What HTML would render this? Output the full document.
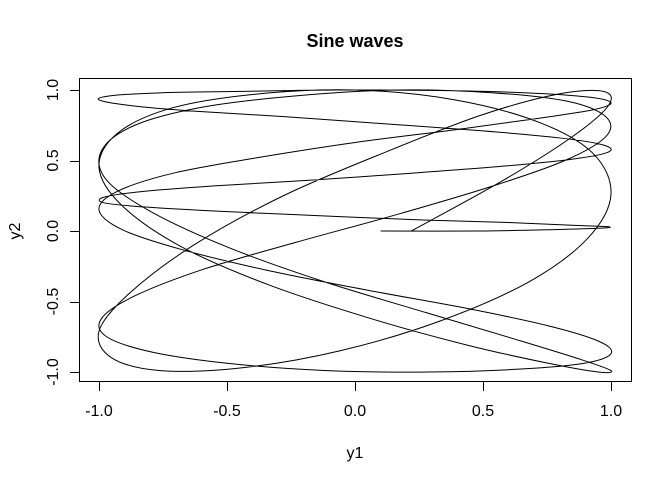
<!DOCTYPE html>
<html><head><meta charset="utf-8"><style>
html,body{margin:0;padding:0;background:#fff;}
svg{display:block;font-family:"Liberation Sans",Arial,sans-serif;}
</style></head><body>
<svg id="chart" width="672" height="480" viewBox="0 0 672 480">
<text x="355" y="47" text-anchor="middle" font-size="18" font-weight="bold">Sine waves</text>
<rect x="79.5" y="78.5" width="552" height="303" fill="none" stroke="#000" stroke-width="1"/>
<g id="xaxis"></g>
<g id="yaxis"></g>
<text x="355" y="458" text-anchor="middle" font-size="16">y1</text>
<text x="20" y="231" text-anchor="middle" font-size="16" transform="rotate(-90 20 231)">y2</text>
<path id="curve" fill="none" stroke="#000" stroke-width="1"/>
</svg>
<script>
const xTicks = [-1.0, -0.5, 0.0, 0.5, 1.0];
const xTickLabels = ["-1.0", "-0.5", "0.0", "0.5", "1.0"];
const yTicks = [-1.0, -0.5, 0.0, 0.5, 1.0];
const yTickLabels = ["-1.0", "-0.5", "0.0", "0.5", "1.0"];
const y1Values = [0.10,0.48,0.78,0.96,0.99,0.86,0.60,0.24,-0.16,-0.53,-0.82,-0.98,-0.98,-0.83,-0.55,-0.18,
0.22,0.58,0.85,0.99,0.97,0.80,0.50,0.12,-0.27,-0.63,-0.88,-1.00,-0.95,-0.76,-0.45,-0.07,
0.33,0.67,0.91,1.00,0.93,0.72,0.40,0.01,-0.38,-0.71,-0.93,-1.00,-0.91,-0.68,-0.34,
0.05,0.44,0.75,0.95,1.00,0.89,0.64,0.29,-0.11,-0.49,-0.79,-0.97,-0.99,-0.86,-0.59,-0.23,
0.17,0.54,0.82,0.98,0.98,0.83,0.54,0.17,-0.22,-0.59,-0.86,-0.99,-0.97,-0.79,-0.49,-0.12,
0.28,0.63,0.88,1.00,0.95,0.76,0.44,0.06,-0.34,-0.68,-0.91,-1.00,-0.93,-0.72,-0.39,0.00,
0.39,0.72,0.93,1.00,0.91,0.68,0.33,-0.06,-0.44,-0.76,-0.95,-1.00,-0.88,-0.63,-0.28,
0.12,0.49,0.79,0.97,0.99,0.85,0.58,0.22];
const y2Values = [0.00,0.00,0.01,0.02,0.03,0.04,0.06,0.08,0.11,0.14,0.17,0.20,0.24,0.28,0.32,0.36,
0.41,0.46,0.51,0.56,0.61,0.66,0.71,0.76,0.81,0.85,0.89,0.93,0.96,0.98,0.99,1.00,
0.996,0.98,0.95,0.91,0.86,0.80,0.72,0.63,0.52,0.41,0.28,0.15,0.01,-0.13,-0.28,
-0.42,-0.55,-0.67,-0.78,-0.87,-0.94,-0.98,-1.00,-0.99,-0.94,-0.86,-0.75,-0.62,-0.46,-0.27,-0.08,
0.12,0.32,0.50,0.67,0.81,0.92,0.98,1.00,0.96,0.88,0.75,0.57,0.36,0.13,-0.12,
-0.36,-0.58,-0.77,-0.91,-0.99,-1.00,-0.94,-0.81,-0.62,-0.38,-0.11,0.18,0.45,0.69,0.87,0.97,1.00,
0.93,0.77,0.55,0.26,-0.05,-0.36,-0.64,-0.85,-0.97,-0.99,-0.90,-0.71,-0.44,-0.10,0.25,0.56,
0.82,0.97,0.99,0.89,0.67,0.36,0.00];

const NS = "http://www.w3.org/2000/svg";
function xScale(v){ return 355 + 256 * v; }
function yScale(v){ return 231 - 141 * v; }

const xg = document.getElementById('xaxis');
xTicks.forEach((t,i)=>{
  const tk = document.createElementNS(NS,'line');
  
  
  const x = Math.round(xScale(t))+0.5;
  tk.setAttribute('x1',x); tk.setAttribute('x2',x); tk.setAttribute('y1',381.5); tk.setAttribute('y2',391); tk.setAttribute('stroke','#000');
  xg.appendChild(tk);
  const lb = document.createElementNS(NS,'text');
  
  
  lb.setAttribute('x',xScale(t)); lb.setAttribute('y',416); lb.setAttribute('text-anchor','middle'); lb.setAttribute('font-size','16');
  lb.textContent = xTickLabels[i];
  xg.appendChild(lb);
});
const yg = document.getElementById('yaxis');
yTicks.forEach((t,i)=>{
  const tk = document.createElementNS(NS,'line');
  
  
  const y = Math.round(yScale(t))+0.5;
  tk.setAttribute('y1',y); tk.setAttribute('y2',y); tk.setAttribute('x1',70); tk.setAttribute('x2',79.5); tk.setAttribute('stroke','#000');
  yg.appendChild(tk);
  const lb = document.createElementNS(NS,'text');
  
  
  const yy = yScale(t);
  lb.setAttribute('x',58); lb.setAttribute('y',yy); lb.setAttribute('text-anchor','middle'); lb.setAttribute('font-size','16');
  lb.setAttribute('transform','rotate(-90 58 '+yy+')');
  lb.textContent = yTickLabels[i];
  yg.appendChild(lb);
});

const pts = y1Values.map((v,i)=>[xScale(v), yScale(y2Values[i])]);
let d = 'M' + pts[0][0].toFixed(2) + ',' + pts[0][1].toFixed(2);
for (let i=0;i<pts.length-1;i++){
  const p0 = pts[i-1]||pts[i], p1 = pts[i], p2 = pts[i+1], p3 = pts[i+2]||pts[i+1];
  const c1x = p1[0]+(p2[0]-p0[0])/6, c1y = p1[1]+(p2[1]-p0[1])/6;
  const c2x = p2[0]-(p3[0]-p1[0])/6, c2y = p2[1]-(p3[1]-p1[1])/6;
  d += ' C'+c1x.toFixed(2)+','+c1y.toFixed(2)+' '+c2x.toFixed(2)+','+c2y.toFixed(2)+' '+p2[0].toFixed(2)+','+p2[1].toFixed(2);
}
document.getElementById('curve').setAttribute('d', d);
</script>
</body></html>
